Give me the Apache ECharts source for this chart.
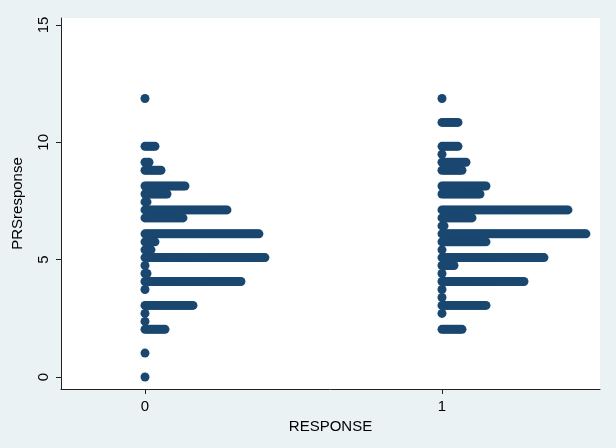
<!DOCTYPE html>
<html>
<head>
<meta charset="utf-8">
<script src="https://cdn.jsdelivr.net/npm/echarts@6/dist/echarts.min.js"></script>
<style>
html,body{margin:0;padding:0;background:#eaf2f3;}
#c{width:616px;height:448px;}
</style>
</head>
<body>
<div id="c"></div>
<script>
// Row levels of PRSresponse (dot-plot bins)
const yLevels = [0, 1.02, 2.03, 2.37, 2.71, 3.05, 3.39, 3.73, 4.07, 4.41, 4.75, 5.09, 5.42, 5.76, 6.10, 6.44, 6.78, 7.12, 7.46, 7.80, 8.14, 8.81, 9.15, 9.49, 9.83, 10.85, 11.87];
// Number of observations in each row, RESPONSE = 0
const counts0 = [1, 1, 11, 1, 1, 25, 0, 1, 49, 2, 1, 61, 4, 6, 58, 0, 20, 42, 2, 12, 21, 9, 3, 0, 6, 0, 1];
// Number of observations in each row, RESPONSE = 1
const counts1 = [0, 0, 11, 0, 1, 23, 1, 1, 42, 1, 7, 52, 1, 23, 73, 2, 16, 64, 0, 20, 23, 11, 13, 1, 9, 9, 1];
const categories = [0, 1];
const xTicks = [0, 1];
const yTicks = [0, 5, 10, 15];

const dotStep = 0.00673; // horizontal spacing between stacked dots (x data units)

function buildDots(cat, counts) {
  const pts = [];
  counts.forEach((n, i) => {
    for (let j = 0; j < n; j++) pts.push([cat + j * dotStep, yLevels[i]]);
  });
  return pts;
}
const data = buildDots(categories[0], counts0).concat(buildDots(categories[1], counts1));

const chart = echarts.init(document.getElementById('c'), null, {renderer: 'canvas'});
const font = 'Liberation Sans, Arial, sans-serif';
chart.setOption({
  backgroundColor: '#eaf2f3',
  animation: false,
  grid: {left: 61, right: 16, top: 18, bottom: 59, show: true, backgroundColor: '#ffffff', borderWidth: 0},
  xAxis: {
    type: 'value', min: -0.2828, max: 1.532,
    name: 'RESPONSE', nameLocation: 'middle', nameGap: 26,
    nameTextStyle: {color: '#000', fontSize: 15, fontFamily: font},
    axisLine: {show: true, onZero: false, lineStyle: {color: '#222', width: 1}},
    axisTick: {show: true, length: 5, customValues: xTicks, lineStyle: {color: '#222'}},
    axisLabel: {customValues: xTicks, color: '#000', fontSize: 15, fontFamily: font, margin: 10},
    splitLine: {show: false}
  },
  yAxis: {
    type: 'value', min: -0.511, max: 15.298,
    name: 'PRSresponse', nameLocation: 'middle', nameGap: 36,
    nameTextStyle: {color: '#000', fontSize: 15, fontFamily: font},
    axisLine: {show: true, onZero: false, lineStyle: {color: '#222', width: 1}},
    axisTick: {show: true, length: 5, customValues: yTicks, lineStyle: {color: '#222'}},
    axisLabel: {customValues: yTicks, rotate: 90, color: '#000', fontSize: 15, fontFamily: font, margin: 10},
    splitLine: {show: false}
  },
  series: [{
    type: 'scatter',
    data: data,
    symbol: 'circle',
    symbolSize: 9,
    itemStyle: {color: '#1a476f', opacity: 1},
    emphasis: {disabled: true}
  }]
});
</script>
</body>
</html>
